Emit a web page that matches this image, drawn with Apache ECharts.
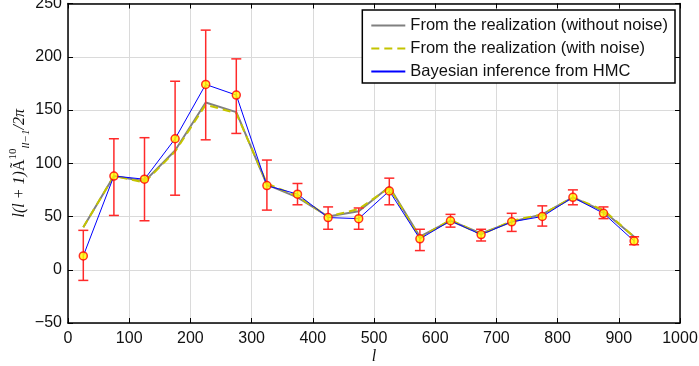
<!DOCTYPE html>
<html>
<head>
<meta charset="UTF-8">
<script src="https://cdn.jsdelivr.net/npm/echarts@6/dist/echarts.min.js"></script>
<style>
  html, body { margin: 0; padding: 0; background: #fff; }
  #main { width: 699px; height: 366px; }
</style>
</head>
<body>
<div id="main"></div>
<script>
// multipole centres
var ells = [25, 75, 125, 175, 225, 275, 325, 375, 425, 475, 525, 575, 625, 675, 725, 775, 825, 875, 925];
// realization without noise (gray)
var noNoise = [40, 88, 83, 112, 157, 148, 80, 68, 50, 55, 78, 31, 46, 34, 45, 52, 68, 55, 31];
// realization with noise (yellow dashed)
var withNoise = [40, 88, 82, 111, 155, 147, 81, 69, 50, 57, 77, 30, 47, 33, 46, 52, 68, 56, 31];
// HMC estimate (blue) and its error bars
var hmc = [13, 88, 85, 123, 174, 164, 79, 71, 49, 48, 74, 29, 46, 33, 45, 50, 68, 53, 27];
var errLow = [-10, 51, 46, 70, 122, 128, 56, 61, 38, 38, 61, 18, 40, 27, 36, 41, 61, 48, 23.5];
var errHigh = [37, 123, 124, 177, 225, 198, 103, 81, 59, 58, 86, 38, 52, 38, 53, 60, 75, 59, 31];

var legendNames = [
  'From the realization (without noise)',
  'From the realization (with noise)',
  'Bayesian inference from HMC'
];

function pairs(ys) {
  return ells.map(function (x, i) { return [x, ys[i]]; });
}

var chart = echarts.init(document.getElementById('main'));

var sans = 'Liberation Sans, Arial, sans-serif';
var serif = 'Liberation Serif, serif';
var frame = { show: true, onZero: false, lineStyle: { color: '#000', width: 1.5 } };
var tickIn = { show: true, inside: true, length: 5, lineStyle: { color: '#000', width: 1 } };
var grid = { show: true, lineStyle: { color: '#dadada', width: 1 } };

chart.setOption({
  animation: false,
  backgroundColor: '#fff',
  grid: { left: 68, right: 19, top: 3.5, bottom: 43, containLabel: false, outerBoundsMode: 'none' },
  legend: {
    orient: 'vertical',
    right: 24,
    top: 10,
    data: legendNames,
    itemWidth: 34,
    itemHeight: 14,
    itemGap: 6,
    padding: [7, 7, 3, 8],
    borderColor: '#000',
    borderWidth: 1.5,
    backgroundColor: '#fff',
    itemStyle: { opacity: 0 },
    textStyle: { fontFamily: sans, fontSize: 16.5, color: '#111' }
  },
  xAxis: [{
    type: 'value', min: 0, max: 1000, interval: 100,
    axisLine: frame, axisTick: tickIn, splitLine: grid,
    axisLabel: {
      margin: 8, fontFamily: sans, fontSize: 16, color: '#111',
      formatter: function (v) { return String(v); }
    },
    name: 'l', nameLocation: 'middle', nameGap: 26, nameMoveOverlap: false,
    nameTextStyle: { fontFamily: serif, fontStyle: 'italic', fontSize: 16, color: '#111' }
  }, {
    type: 'value', min: 0, max: 1000, interval: 100, position: 'top',
    axisLine: frame, axisTick: tickIn, splitLine: { show: false }, axisLabel: { show: false }
  }],
  yAxis: [{
    type: 'value', min: -50, max: 250, interval: 50,
    axisLine: frame, axisTick: tickIn, splitLine: grid,
    axisLabel: {
      margin: 6, fontFamily: sans, fontSize: 16, color: '#111',
      formatter: function (v) { return String(v).replace('-', '\u2212'); }
    },
    name: '{i|l(l + 1)}{a|\u00c3}{sup|10}{sub|ll\u22121}{i|/2\u03c0}',
    nameLocation: 'middle', nameGap: 36, nameRotate: 90, nameMoveOverlap: false,
    nameTextStyle: {
      color: '#111',
      rich: {
        i: { fontFamily: serif, fontStyle: 'italic', fontSize: 16, color: '#111', lineHeight: 24 },
        a: { fontFamily: serif, fontSize: 16, color: '#111', lineHeight: 24 },
        sup: { fontFamily: serif, fontSize: 11, color: '#111', verticalAlign: 'top', lineHeight: 24 },
        sub: { fontFamily: serif, fontStyle: 'italic', fontSize: 11, color: '#111', verticalAlign: 'bottom', lineHeight: 24 }
      }
    }
  }, {
    type: 'value', min: -50, max: 250, interval: 50, position: 'right',
    axisLine: frame, axisTick: tickIn, splitLine: { show: false }, axisLabel: { show: false }
  }],
  series: [{
    name: legendNames[0], type: 'line', symbol: 'none', z: 2,
    data: pairs(noNoise),
    lineStyle: { color: '#808080', width: 2 }, itemStyle: { color: '#808080' }
  }, {
    name: legendNames[1], type: 'line', symbol: 'none', z: 3,
    data: pairs(withNoise),
    lineStyle: { color: '#c4c400', width: 2, type: [8, 5] }, itemStyle: { color: '#c4c400' }
  }, {
    name: legendNames[2], type: 'line', symbol: 'none', z: 4,
    data: pairs(hmc),
    lineStyle: { color: '#0000ff', width: 1 }, itemStyle: { color: '#0000ff' }
  }, {
    name: 'errors', type: 'custom', z: 5,
    data: ells.map(function (x, i) { return [x, errLow[i], errHigh[i]]; }),
    renderItem: function (params, api) {
      var lo = api.coord([api.value(0), api.value(1)]);
      var hi = api.coord([api.value(0), api.value(2)]);
      var w = 5;
      var st = { stroke: '#ff2a2a', lineWidth: 1.5 };
      return {
        type: 'group',
        children: [
          { type: 'line', shape: { x1: lo[0], y1: lo[1], x2: hi[0], y2: hi[1] }, style: st },
          { type: 'line', shape: { x1: lo[0] - w, y1: lo[1], x2: lo[0] + w, y2: lo[1] }, style: st },
          { type: 'line', shape: { x1: hi[0] - w, y1: hi[1], x2: hi[0] + w, y2: hi[1] }, style: st }
        ]
      };
    }
  }, {
    name: 'points', type: 'scatter', z: 6,
    data: pairs(hmc),
    symbol: 'circle', symbolSize: 8,
    itemStyle: { color: '#ffff00', borderColor: '#ff0000', borderWidth: 1.5 }
  }]
});
</script>
</body>
</html>
